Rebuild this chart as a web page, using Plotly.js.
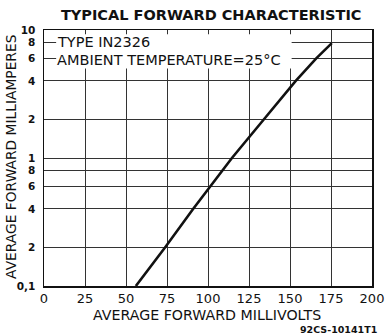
<!DOCTYPE html>
<html><head><meta charset="utf-8">
<script src="https://cdn.plot.ly/plotly-3.0.1.min.js"></script>
<style>html,body{margin:0;padding:0;background:#fff;}#chart{width:389px;height:334px;}</style>
</head><body><div id="chart"></div>
<script>
// Curve (millivolts, milliamperes)
var forwardMillivolts = [56, 73.8, 90.9, 101.3, 108.6, 114.6, 134, 153.5, 166, 175.5];
var forwardMilliamps  = [0.1, 0.2, 0.4, 0.6, 0.8, 1, 2, 4, 6, 7.9];
var xTickVals = [0, 25, 50, 75, 100, 125, 150, 175, 200];
var yTickVals = [0.1, 0.2, 0.4, 0.6, 0.8, 1, 2, 4, 6, 8, 10];
var yTickText = ["0,1", "2", "4", "6", "8", "1", "2", "4", "6", "8", "10"];

var F = "DejaVu Sans, Liberation Sans, sans-serif";
var ink = "#111";

var trace = {
  x: forwardMillivolts, y: forwardMilliamps,
  type: "scatter", mode: "lines",
  line: {color: ink, width: 2.6},
  hoverinfo: "skip", showlegend: false
};

var layout = {
  width: 389, height: 334,
  margin: {l: 44, r: 17, t: 30, b: 48},
  paper_bgcolor: "#fff", plot_bgcolor: "#fff",
  font: {family: F, color: ink},
  showlegend: false,
  title: {text: "<b>TYPICAL FORWARD CHARACTERISTIC</b>", font: {family: F, size: 14.5, color: ink},
          x: 0.543, xanchor: "center", y: 0.955, yanchor: "middle"},
  xaxis: {
    range: [0, 200], tickvals: xTickVals, ticktext: xTickVals.map(String),
    showgrid: true, gridcolor: "#333", gridwidth: 1,
    showline: true, linecolor: ink, linewidth: 1.5, mirror: true,
    zeroline: false, ticks: "", ticklabelstandoff: 0,
    tickfont: {family: F, size: 13, color: ink}
  },
  yaxis: {
    type: "log", range: [-1, 1], tickvals: yTickVals, ticktext: yTickText,
    showgrid: true, gridcolor: "#333", gridwidth: 1,
    showline: true, linecolor: ink, linewidth: 1.5, mirror: true,
    zeroline: false, ticks: "", ticklabelstandoff: 5,
    tickfont: {family: F, size: 10.5, color: ink, weight: "bold"}
  },
  shapes: [{
    type: "rect", layer: "above", xref: "paper", yref: "paper",
    x0: 0.037, x1: 0.755, y0: 0.85, y1: 0.983,
    fillcolor: "#fff", line: {width: 0}
  }],
  annotations: [
    {text: "AVERAGE FORWARD MILLIVOLTS", xref: "paper", yref: "paper", x: 0.497, y: -0.112,
     xanchor: "center", yanchor: "middle", showarrow: false, font: {family: F, size: 14.2, color: ink}},
    {text: "AVERAGE FORWARD MILLIAMPERES", xref: "paper", yref: "paper", x: -0.1, y: 0.505,
     xanchor: "center", yanchor: "middle", textangle: -90, showarrow: false, font: {family: F, size: 13.8, color: ink}},
    {text: "TYPE IN2326", xref: "paper", yref: "paper", x: 0.035, y: 0.953,
     xanchor: "left", yanchor: "middle", showarrow: false, font: {family: F, size: 14.5, color: ink}},
    {text: "AMBIENT TEMPERATURE=25°C", xref: "paper", yref: "paper", x: 0.035, y: 0.883,
     xanchor: "left", yanchor: "middle", showarrow: false, font: {family: F, size: 14.5, color: ink}},
    {text: "<b>92CS-10141T1</b>", xref: "paper", yref: "paper", x: 1.02, y: -0.168,
     xanchor: "right", yanchor: "middle", showarrow: false, font: {family: F, size: 9.5, color: ink}}
  ]
};

Plotly.newPlot("chart", [trace], layout, {staticPlot: true, displayModeBar: false});
</script></body></html>
